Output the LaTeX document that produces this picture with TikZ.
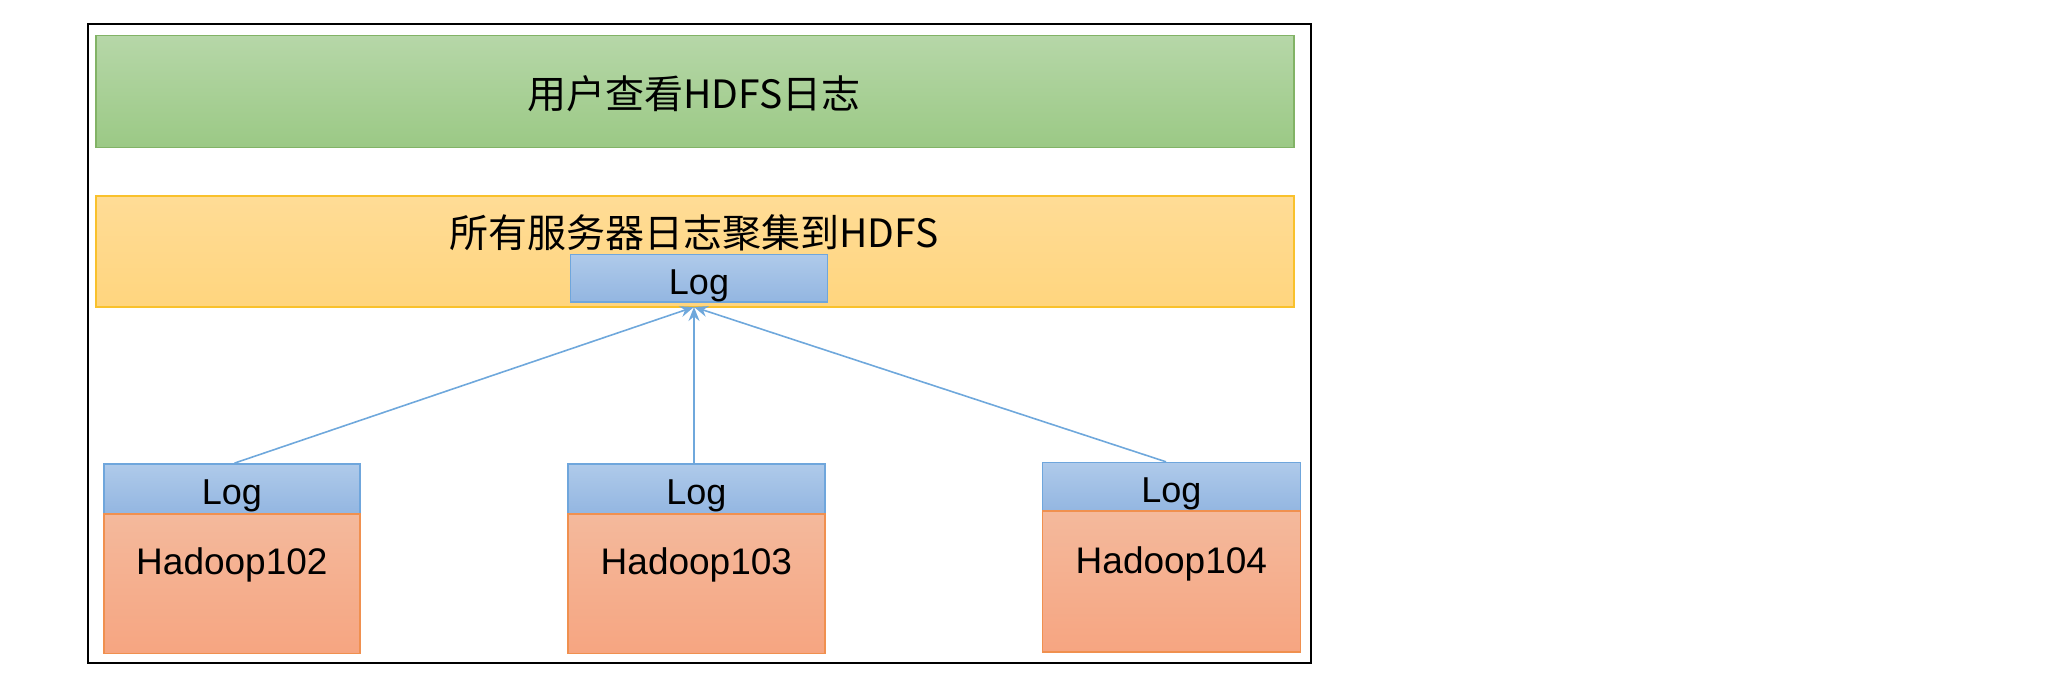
\documentclass[tikz,border=0pt]{standalone}
\usepackage{fontspec}
\setmainfont{Liberation Sans}
\newfontfamily\cjk{Noto Sans CJK SC}
\usetikzlibrary{arrows.meta}
\definecolor{gtop}{HTML}{B6D7A8}
\definecolor{gbot}{HTML}{9BC985}
\definecolor{gline}{HTML}{82B366}
\definecolor{ytop}{HTML}{FFDC96}
\definecolor{ybot}{HTML}{FFD57E}
\definecolor{yline}{HTML}{F9C12C}
\definecolor{btop}{HTML}{AFCAEA}
\definecolor{bbot}{HTML}{93B6E1}
\definecolor{bline}{HTML}{6FA6DC}
\definecolor{otop}{HTML}{F4B99C}
\definecolor{obot}{HTML}{F6A581}
\definecolor{oline}{HTML}{F0904F}
\definecolor{aline}{HTML}{6FA8DC}
\tikzset{
  greenbox/.style={draw=gline,line width=0.8pt,top color=gtop,bottom color=gbot,inner sep=0pt},
  yellowbox/.style={draw=yline,line width=0.8pt,top color=ytop,bottom color=ybot,inner sep=0pt},
  logbox/.style={draw=bline,line width=0.8pt,top color=btop,bottom color=bbot,inner sep=0pt,text depth=0pt,text height=16pt,font=\fontsize{18}{20}\selectfont},
  hostbox/.style={draw=oline,line width=0.8pt,top color=otop,bottom color=obot,inner sep=0pt},
  hosttext/.style={inner sep=0pt,font=\fontsize{18.5}{20}\selectfont},
  cjktext/.style={inner sep=0pt,font=\cjk\fontsize{19.5}{22}\selectfont},
  flow/.style={draw=aline,line width=0.8pt,-{Stealth[length=7pt,width=5.5pt]}}
}
\begin{document}
\begin{tikzpicture}[x=0.5pt,y=-0.5pt]
\useasboundingbox (0,0) rectangle (2066,686);
\node[draw=black,line width=1pt,minimum width=611.5pt,minimum height=319.5pt,inner sep=0pt] (frame) at (699.6,343.2) {};
\node[greenbox,minimum width=598.9pt,minimum height=56pt] (user) at (695,91.6) {};
\node[cjktext] (usert) at (694,94) {用户查看HDFS日志};
\node[yellowbox,minimum width=598.9pt,minimum height=55.4pt] (agg) at (695,251.6) {};
\node[cjktext] (aggt) at (694,232.5) {所有服务器日志聚集到HDFS};
\node[logbox,minimum width=128.5pt,minimum height=23.7pt] (tlog) at (699,278) {Log};
\node[logbox,minimum width=127.8pt,minimum height=25pt] (llog) at (231.9,488.9) {Log};
\node[hostbox,minimum width=127.8pt,minimum height=69.8pt] (lhost) at (231.9,583.7) {};
\node[hosttext] (lhostt) at (231.9,565) {Hadoop102};
\node[logbox,minimum width=128.5pt,minimum height=25pt] (mlog) at (696.4,488.9) {Log};
\node[hostbox,minimum width=128.5pt,minimum height=69.8pt] (mhost) at (696.4,583.7) {};
\node[hosttext] (mhostt) at (696.4,565) {Hadoop103};
\node[logbox,minimum width=129pt,minimum height=24.3pt] (rlog) at (1171.4,486.9) {Log};
\node[hostbox,minimum width=129pt,minimum height=70.5pt] (rhost) at (1171.4,581.7) {};
\node[hosttext] (rhostt) at (1171.4,563.6) {Hadoop104};
\coordinate (tgt) at (694,307);
\draw[flow] ([xshift=1.3pt]llog.north) -- (tgt);
\draw[flow] (mlog.north -| tgt) -- (tgt);
\draw[flow] ([xshift=-2.7pt]rlog.north) -- (tgt);
\end{tikzpicture}
\end{document}
